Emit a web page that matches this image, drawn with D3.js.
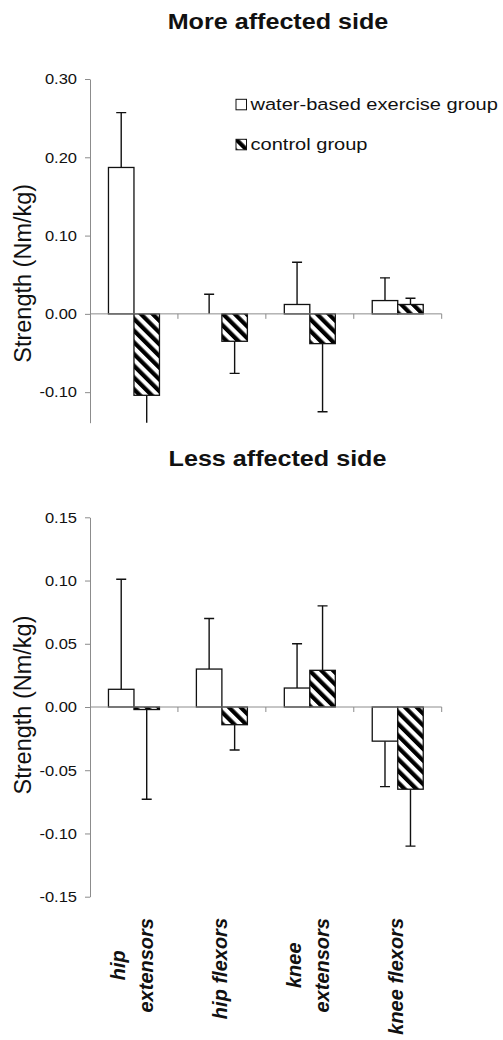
<!DOCTYPE html>
<html>
<head>
<meta charset="utf-8">
<script src="https://cdn.jsdelivr.net/npm/d3@7"></script>
<style>
  body { margin: 0; background: #fff; }
  text { font-family: "Liberation Sans", Arial, sans-serif; fill: #111; }
</style>
</head>
<body>
<svg id="chart"></svg>
<script>
// data
const categories = ["hip extensors", "hip flexors", "knee extensors", "knee flexors"];
const categoryLines = [["hip", "extensors"], ["hip flexors"], ["knee", "extensors"], ["knee flexors"]];
const seriesNames = ["water-based exercise group", "control group"];

// more affected side
const moreWater = [0.187, 0.000, 0.012, 0.017];
const moreWaterErr = [0.070, 0.025, 0.054, 0.029];
const moreControl = [-0.104, -0.035, -0.038, 0.012];
const moreControlErr = [0.045, 0.041, 0.087, 0.008];
const moreTicks = [0.30, 0.20, 0.10, 0.00, -0.10];
const moreTickLabels = ["0.30", "0.20", "0.10", "0.00", "-0.10"];

// less affected side
const lessWater = [0.014, 0.030, 0.015, -0.027];
const lessWaterErr = [0.087, 0.040, 0.035, 0.036];
const lessControl = [-0.002, -0.014, 0.029, -0.065];
const lessControlErr = [0.071, 0.020, 0.051, 0.045];
const lessTicks = [0.15, 0.10, 0.05, 0.00, -0.05, -0.10, -0.15];
const lessTickLabels = ["0.15", "0.10", "0.05", "0.00", "-0.05", "-0.10", "-0.15"];

var svgWidth = 503;
var svgHeight = 1040;
var axisColor = "#8c8c8c";

var svg = d3.select("#chart")
    .attr("width", svgWidth)
    .attr("height", svgHeight);

// diagonal hatch for the control group
var defs = svg.append("defs");
var pattern = defs.append("pattern")
    .attr("id", "hatch")
    .attr("patternUnits", "userSpaceOnUse")
    .attr("width", 8.3)
    .attr("height", 8.3)
    .attr("patternTransform", "rotate(-45)");
pattern.append("rect").attr("width", 8.3).attr("height", 8.3).attr("fill", "#fff");
pattern.append("rect").attr("width", 4.2).attr("height", 8.3).attr("fill", "#000");

var xScale = d3.scaleBand()
    .domain(categories)
    .range([90, 441.7])
    .padding(0);

var xSub = d3.scaleBand()
    .domain(seriesNames)
    .range([xScale.bandwidth() * 0.21, xScale.bandwidth() * 0.79])
    .padding(0);

// text that is a bit wider than the font, like the scanned figure
function wideText(parent, x, y, str, size, weight, anchor, sx) {
    parent.append("g")
        .attr("transform", "translate(" + x + "," + y + ") scale(" + sx + ",1)")
        .append("text")
        .attr("text-anchor", anchor)
        .style("font-size", size + "px")
        .style("font-weight", weight)
        .text(str);
}

function panel(opts) {
    var yScale = d3.scaleLinear()
        .domain(opts.domain)
        .range(opts.range);

    var g = svg.append("g");

    // title
    wideText(g, opts.titleX, opts.titleY, opts.title, 21.5, "bold", "middle", 1.17);

    // y axis
    var yAxis = d3.axisLeft(yScale)
        .tickValues(opts.ticks)
        .tickFormat(function (d, i) { return opts.tickLabels[i]; })
        .tickSize(5)
        .tickSizeOuter(0);
    var ax = g.append("g")
        .attr("transform", "translate(90,0)")
        .call(yAxis);
    ax.select(".domain").attr("stroke", axisColor);
    ax.selectAll(".tick line").attr("stroke", axisColor);
    ax.selectAll(".tick text").remove();
    opts.ticks.forEach(function (t, i) {
        wideText(g, 77, yScale(t) + 5.3, opts.tickLabels[i], 15, "normal", "end", 1.1);
    });

    // y axis title
    g.append("text")
        .attr("transform", "translate(30.5," + opts.labelY + ") rotate(-90)")
        .attr("text-anchor", "middle")
        .style("font-size", "23.5px")
        .text("Strength (Nm/kg)");

    var clipId = "clip" + opts.id;
    defs.append("clipPath").attr("id", clipId)
        .append("rect")
        .attr("x", 90).attr("width", 360)
        .attr("y", d3.min(opts.range)).attr("height", Math.abs(opts.range[1] - opts.range[0]));

    var series = [
        { name: seriesNames[0], values: opts.water, errors: opts.waterErr, fill: "#fff" },
        { name: seriesNames[1], values: opts.control, errors: opts.controlErr, fill: "url(#hatch)" }
    ];

    var y0 = yScale(0);

    series.forEach(function (s) {
        var rows = categories.map(function (c, i) { return { cat: c, v: s.values[i], e: s.errors[i] }; });

        // error bars (one sided, away from zero)
        var eb = g.append("g").attr("clip-path", "url(#" + clipId + ")");
        eb.selectAll("line.err")
            .data(rows)
            .enter()
            .append("line")
            .attr("class", "err")
            .attr("x1", function (d) { return xScale(d.cat) + xSub(s.name) + xSub.bandwidth() / 2; })
            .attr("x2", function (d) { return xScale(d.cat) + xSub(s.name) + xSub.bandwidth() / 2; })
            .attr("y1", function (d) { return yScale(d.v); })
            .attr("y2", function (d) { return yScale(d.v + (d.v >= 0 ? d.e : -d.e)); })
            .attr("stroke", "#111")
            .attr("stroke-width", 1.4);
        eb.selectAll("line.cap")
            .data(rows)
            .enter()
            .append("line")
            .attr("class", "cap")
            .attr("x1", function (d) { return xScale(d.cat) + xSub(s.name) + xSub.bandwidth() / 2 - 5; })
            .attr("x2", function (d) { return xScale(d.cat) + xSub(s.name) + xSub.bandwidth() / 2 + 5; })
            .attr("y1", function (d) { return yScale(d.v + (d.v >= 0 ? d.e : -d.e)); })
            .attr("y2", function (d) { return yScale(d.v + (d.v >= 0 ? d.e : -d.e)); })
            .attr("stroke", "#111")
            .attr("stroke-width", 1.4);

        // bars
        g.selectAll(null)
            .data(rows.filter(function (d) { return d.v !== 0; }))
            .enter()
            .append("rect")
            .attr("x", function (d) { return xScale(d.cat) + xSub(s.name); })
            .attr("y", function (d) { return Math.min(yScale(d.v), y0); })
            .attr("width", xSub.bandwidth())
            .attr("height", function (d) { return Math.abs(yScale(d.v) - y0); })
            .attr("fill", s.fill)
            .attr("stroke", "#111")
            .attr("stroke-width", 1.3);
    });

    // x axis line at zero with category ticks
    g.append("line")
        .attr("x1", xScale.range()[0])
        .attr("x2", xScale.range()[1])
        .attr("y1", y0)
        .attr("y2", y0)
        .attr("stroke", axisColor)
        .attr("stroke-width", 1);
    g.selectAll(null)
        .data(categories)
        .enter()
        .append("line")
        .attr("x1", function (d) { return xScale(d) + xScale.bandwidth(); })
        .attr("x2", function (d) { return xScale(d) + xScale.bandwidth(); })
        .attr("y1", y0)
        .attr("y2", y0 + 5)
        .attr("stroke", axisColor);

    return g;
}

panel({
    id: "more",
    title: "More affected side", titleX: 278, titleY: 29.3,
    domain: [-0.139, 0.30], range: [422.7, 79],
    ticks: moreTicks, tickLabels: moreTickLabels, labelY: 273.3,
    water: moreWater, waterErr: moreWaterErr,
    control: moreControl, controlErr: moreControlErr
});

panel({
    id: "less",
    title: "Less affected side", titleX: 277.5, titleY: 466,
    domain: [-0.15, 0.15], range: [896.7, 517.3],
    ticks: lessTicks, tickLabels: lessTickLabels, labelY: 705,
    water: lessWater, waterErr: lessWaterErr,
    control: lessControl, controlErr: lessControlErr
});

// legend
var legend = svg.append("g");
seriesNames.forEach(function (name, i) {
    var ly = 99.3 + i * 40;
    legend.append("rect")
        .attr("x", 236)
        .attr("y", ly)
        .attr("width", 10.5)
        .attr("height", 10.5)
        .attr("fill", i == 0 ? "#fff" : "url(#hatch)")
        .attr("stroke", "#111")
        .attr("stroke-width", 1);
    wideText(legend, 250.5, ly + 10.3, name, 17, "normal", "start", 1.18);
});

// category labels, rotated, under the lower panel
var catG = svg.append("g");
categoryLines.forEach(function (lines, i) {
    var cx = xScale(categories[i]) + xScale.bandwidth() / 2;
    var lineGap = 28.4;
    var grp = catG.append("g");
    var maxLen = 0;
    lines.forEach(function (ln, j) {
        var t = grp.append("text")
            .attr("x", 0)
            .attr("y", 5 + (j - (lines.length - 1) / 2) * lineGap)
            .attr("text-anchor", "middle")
            .style("font-size", "20px")
            .style("font-weight", "bold")
            .style("font-style", "italic")
            .text(ln);
        maxLen = Math.max(maxLen, t.node().getComputedTextLength());
    });
    grp.attr("transform", "translate(" + cx + "," + (918 + maxLen / 2) + ") rotate(-90)");
});
</script>
</body>
</html>
